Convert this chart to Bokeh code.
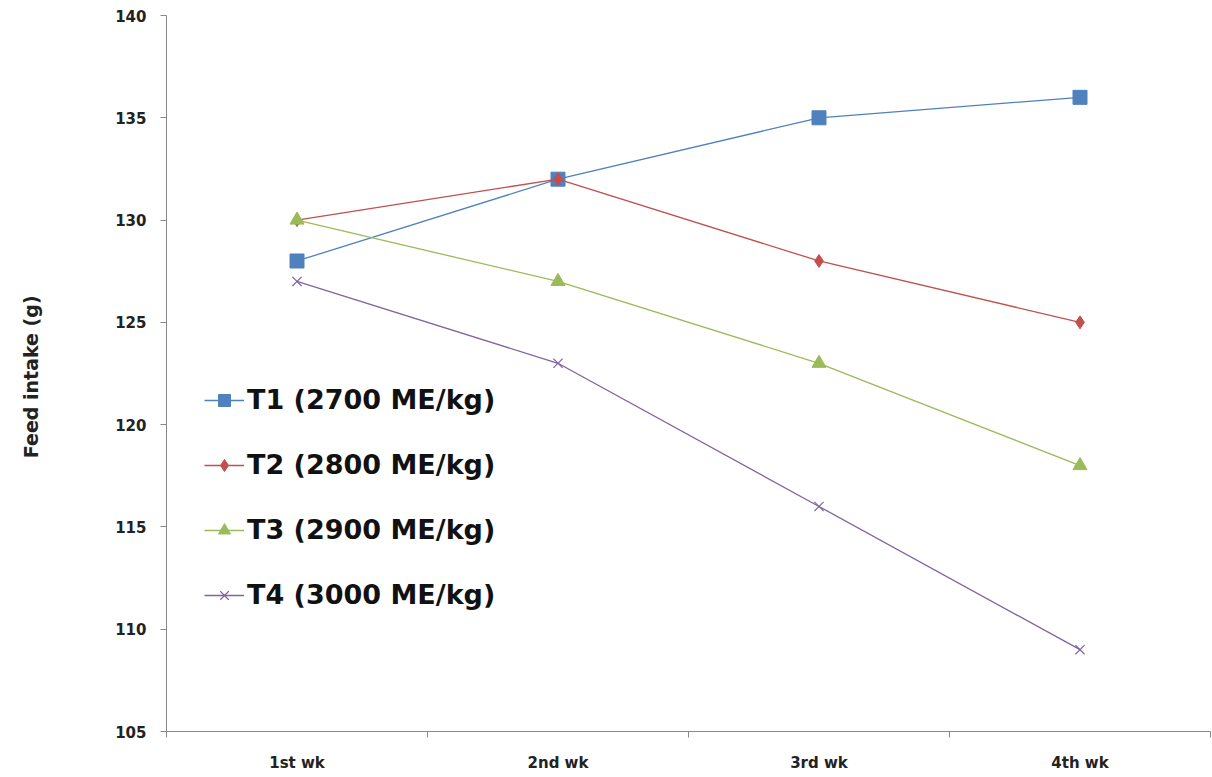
from bokeh.plotting import figure
from bokeh.models import FixedTicker, Legend, LegendItem, Range1d
from bokeh.embed import file_html
from bokeh.resources import INLINE

weeks = ["1st wk", "2nd wk", "3rd wk", "4th wk"]
t1 = [128, 132, 135, 136]
t2 = [130, 132, 128, 125]
t3 = [130, 127, 123, 118]
t4 = [127, 123, 116, 109]
series_names = ["T1 (2700 ME/kg)", "T2 (2800 ME/kg)", "T3 (2900 ME/kg)", "T4 (3000 ME/kg)"]
y_ticks = [105, 110, 115, 120, 125, 130, 135, 140]

xs = [i + 0.5 for i in range(len(weeks))]

p = figure(width=1212, height=777, output_backend="svg", toolbar_location=None,
           x_range=Range1d(0, len(weeks)), y_range=Range1d(105, 140),
           min_border_left=166, min_border_right=2, min_border_top=15, min_border_bottom=46)
p.outline_line_color = None
p.grid.grid_line_color = None
p.background_fill_color = "white"

font = "DejaVu Sans"

# x axis: labels centred on each week, ticks on the week boundaries
p.xaxis.ticker = FixedTicker(ticks=xs, minor_ticks=list(range(len(weeks) + 1)))
p.xaxis.major_label_overrides = {x: w for x, w in zip(xs, weeks)}
p.xaxis.major_tick_out = 0
p.xaxis.major_tick_in = 0
p.xaxis.minor_tick_out = 6
p.xaxis.minor_tick_in = 0
p.xaxis.minor_tick_line_color = "#888888"
p.xaxis.axis_line_color = "#888888"
p.xaxis.major_label_text_font = font
p.xaxis.major_label_text_font_style = "bold"
p.xaxis.major_label_text_font_size = "15px"
p.xaxis.major_label_text_color = "#222222"
p.xaxis.major_label_standoff = 16

p.yaxis.ticker = FixedTicker(ticks=y_ticks)
p.yaxis.major_tick_out = 6
p.yaxis.major_tick_in = 0
p.yaxis.minor_tick_line_color = None
p.yaxis.major_tick_line_color = "#888888"
p.yaxis.axis_line_color = "#888888"
p.yaxis.major_label_text_font = font
p.yaxis.major_label_text_font_style = "bold"
p.yaxis.major_label_text_font_size = "15px"
p.yaxis.major_label_text_color = "#222222"
p.yaxis.major_label_standoff = 14
p.yaxis.axis_label = "Feed  intake (g)"
p.yaxis.axis_label_text_font = font
p.yaxis.axis_label_text_font_style = "bold"
p.yaxis.axis_label_text_font_size = "19px"
p.yaxis.axis_label_text_color = "#222222"
p.yaxis.axis_label_standoff = 70

colors = ["#4F81BD", "#C0504D", "#9BBB59", "#8064A2"]
values = [t1, t2, t3, t4]
items = []
for name, vals, c, m, s in zip(series_names, values, colors,
                               ["square", "diamond", "triangle", "x"],
                               [14, 13, 14, 13]):
    ln = p.line(xs, vals, line_color=c, line_width=1.3)
    if m == "x":
        mk = p.scatter(xs, vals, marker=m, size=s, line_color=c, line_width=1.2)
    else:
        mk = p.scatter(xs, vals, marker=m, size=s, fill_color=c, line_color=c)
    items.append(LegendItem(label=name, renderers=[ln, mk]))

legend = Legend(items=items, location=(38, 121), orientation="vertical")
legend.border_line_color = None
legend.background_fill_alpha = 0
legend.label_text_font = font
legend.label_text_font_style = "bold"
legend.label_text_font_size = "27px"
legend.label_text_color = "#111111"
legend.glyph_width = 40
legend.glyph_height = 30
legend.label_standoff = 3
legend.spacing = 34
legend.padding = 0
legend.margin = 0
p.add_layout(legend)

open("out.html", "w").write(file_html(p, INLINE))
